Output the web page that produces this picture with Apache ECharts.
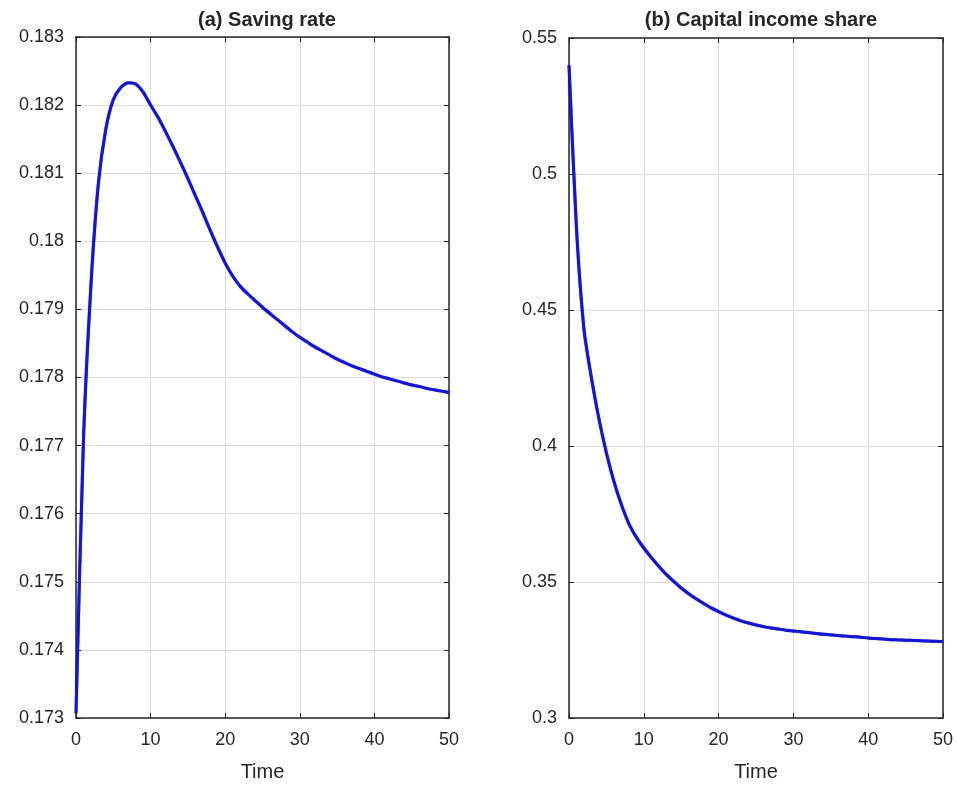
<!DOCTYPE html>
<html>
<head>
<meta charset="utf-8">
<title>Saving rate and capital income share</title>
<script src="https://cdn.jsdelivr.net/npm/echarts@6/dist/echarts.min.js"></script>
<style>
  html, body { margin: 0; padding: 0; background: #fff; }
  #chart { width: 957px; height: 787px; }
</style>
</head>
<body>
<div id="chart"></div>
<script>
// time grid (years)
const timeSteps = [
  0, 1, 2, 3, 4, 5, 6, 7, 8, 9, 10, 11, 12, 13, 14, 15, 16, 17, 18, 19, 20,
  21, 22, 23, 24, 25, 26, 27, 28, 29, 30, 31, 32, 33, 34, 35, 36, 37, 38, 39, 40,
  41, 42, 43, 44, 45, 46, 47, 48, 49, 50
];

// (a) saving rate
const savingRate = [
  0.17307, 0.17708, 0.17935, 0.18085, 0.18165, 0.18208, 0.18226, 0.18233, 0.18231, 0.18219, 0.18200,
  0.18182, 0.18161, 0.18139, 0.18116, 0.18092, 0.18067, 0.18042, 0.18016, 0.17991, 0.17968,
  0.17949, 0.17934, 0.17923, 0.17913, 0.17903, 0.17894, 0.17885, 0.17876, 0.17867, 0.17859,
  0.17852, 0.17845, 0.17839, 0.17833, 0.17827, 0.17822, 0.17817, 0.17813, 0.17809, 0.17805,
  0.17801, 0.17798, 0.17795, 0.17792, 0.17789, 0.17787, 0.17784, 0.17782, 0.17780, 0.17778
];

// (b) capital income share
const capitalShare = [
  0.5400, 0.4800, 0.4430, 0.4250, 0.4100, 0.3975, 0.3870, 0.3785, 0.3715, 0.3665, 0.3625,
  0.3590, 0.3558, 0.3528, 0.3502, 0.3478, 0.3457, 0.3438, 0.3421, 0.3405, 0.3391,
  0.3378, 0.3367, 0.3357, 0.3349, 0.3342, 0.3336, 0.3331, 0.3327, 0.3323, 0.3320,
  0.3317, 0.3314, 0.3311, 0.3308, 0.3306, 0.3303, 0.3301, 0.3299, 0.3297, 0.3294,
  0.3292, 0.3290, 0.3288, 0.3287, 0.3286, 0.3285, 0.3284, 0.3283, 0.3282, 0.3281
];

const panelTitles = ["(a) Saving rate", "(b) Capital income share"];
const xLabel = "Time";

const chart = echarts.init(document.getElementById("chart"));

const FONT = "Liberation Sans, Arial, Helvetica, sans-serif";
const AXIS_COLOR = "#262626";
const GRID_COLOR = "#dcdcdc";

const fmt = (v) => parseFloat(v.toFixed(4)).toString();

// labelled x axis + bare mirror on top for the box & ticks
function xAxes(gridIndex) {
  const base = {
    type: "value",
    gridIndex: gridIndex,
    min: 0,
    max: 50,
    interval: 10,
    axisLine: { show: true, onZero: false, lineStyle: { color: AXIS_COLOR, width: 1.5 } },
    axisTick: { show: true, inside: true, length: 5, lineStyle: { color: AXIS_COLOR } },
  };
  return [
    {
      ...base,
      position: "bottom",
      name: xLabel,
      nameLocation: "middle",
      nameGap: 44,
      nameTextStyle: { color: AXIS_COLOR, fontSize: 20, fontFamily: FONT },
      axisLabel: { color: AXIS_COLOR, fontSize: 18, fontFamily: FONT, margin: 13 },
      splitLine: { show: true, lineStyle: { color: GRID_COLOR, width: 1 } },
    },
    {
      ...base,
      position: "top",
      axisLabel: { show: false },
      splitLine: { show: false },
    },
  ];
}

function yAxes(gridIndex, min, max, interval) {
  const base = {
    type: "value",
    gridIndex: gridIndex,
    min: min,
    max: max,
    interval: interval,
    axisLine: { show: true, onZero: false, lineStyle: { color: AXIS_COLOR, width: 1.5 } },
    axisTick: { show: true, inside: true, length: 5, lineStyle: { color: AXIS_COLOR } },
  };
  return [
    {
      ...base,
      position: "left",
      axisLabel: { color: AXIS_COLOR, fontSize: 18, fontFamily: FONT, margin: 12, formatter: fmt },
      splitLine: { show: true, lineStyle: { color: GRID_COLOR, width: 1 } },
    },
    {
      ...base,
      position: "right",
      axisLabel: { show: false },
      splitLine: { show: false },
    },
  ];
}

function pairs(xs, ys) {
  return xs.map((x, i) => [x, ys[i]]);
}

const lineStyle = { color: "#1414d8", width: 3, shadowColor: "rgba(0,0,40,0.6)", shadowBlur: 1 };

const option = {
  backgroundColor: "#ffffff",
  animation: false,
  title: [
    {
      text: panelTitles[0],
      left: 262,
      top: 5,
      textAlign: "center",
      textStyle: { fontSize: 20, fontWeight: "bold", color: AXIS_COLOR, fontFamily: FONT },
    },
    {
      text: panelTitles[1],
      left: 756,
      top: 5,
      textAlign: "center",
      textStyle: { fontSize: 20, fontWeight: "bold", color: AXIS_COLOR, fontFamily: FONT },
    },
  ],
  grid: [
    { left: 76, right: 508, top: 37, bottom: 67 },
    { left: 569, right: 14, top: 38, bottom: 67 },
  ],
  xAxis: [...xAxes(0), ...xAxes(1)],
  yAxis: [...yAxes(0, 0.173, 0.183, 0.001), ...yAxes(1, 0.3, 0.55, 0.05)],
  series: [
    {
      type: "line",
      xAxisIndex: 0,
      yAxisIndex: 0,
      data: pairs(timeSteps, savingRate),
      showSymbol: false,
      smooth: 0.25,
      lineStyle: lineStyle,
    },
    {
      type: "line",
      xAxisIndex: 2,
      yAxisIndex: 2,
      data: pairs(timeSteps, capitalShare),
      showSymbol: false,
      smooth: 0.25,
      lineStyle: lineStyle,
    },
  ],
};

chart.setOption(option);
</script>
</body>
</html>
